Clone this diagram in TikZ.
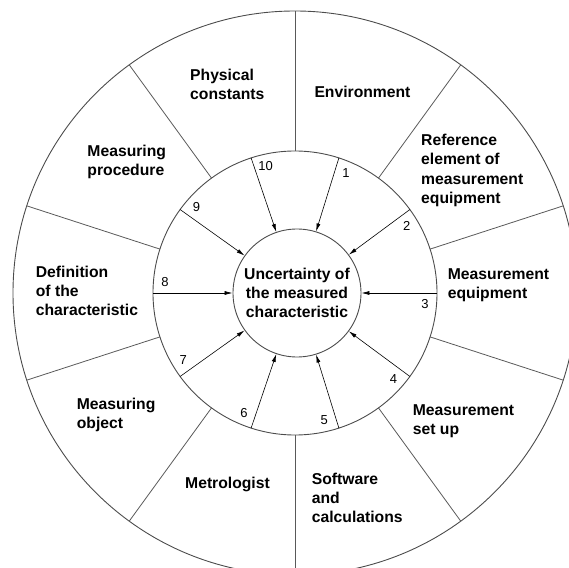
\documentclass[tikz,border=0pt]{standalone}
\usepackage{fontspec}
\setmainfont{Liberation Sans}
\usetikzlibrary{arrows.meta}

\begin{document}
\begin{tikzpicture}[x=1pt,y=1pt]
  \tikzstyle{ring}=[draw=black!70,line width=0.9pt]
  \tikzstyle{spoke}=[draw=black!65,line width=0.8pt]
  \tikzstyle{factor}=[anchor=base west,align=left,inner sep=0pt,
                      font=\bfseries\fontsize{15.7}{19.2}\selectfont]
  \tikzstyle{num}=[inner sep=0pt,font=\fontsize{13}{15}\selectfont]
  \tikzstyle{infl}=[-{Latex[length=8pt,width=4pt]},line width=0.6pt]
  \clip (-295,-274) rectangle (274,293);

  \draw[ring] (0,0) circle (282);
  \draw[ring] (0,0) circle (142);
  \node[ring,circle,minimum size=128pt,inner sep=0pt,align=center,
        font=\bfseries\fontsize{15.7}{19}\selectfont] (unc) at (2,0)
        {Uncertainty of\\the measured\\characteristic};

  % sector borders
  \draw[spoke] (90:142) -- (90:282);
  \draw[spoke] (54:142) -- (54:282);
  \draw[spoke] (18:142) -- (18:282);
  \draw[spoke] (-18:142) -- (-18:282);
  \draw[spoke] (-54:142) -- (-54:282);
  \draw[spoke] (-90:142) -- (-90:282);
  \draw[spoke] (-126:142) -- (-126:282);
  \draw[spoke] (-162:142) -- (-162:282);
  \draw[spoke] (162:142) -- (162:282);
  \draw[spoke] (126:142) -- (126:282);

  % influence arrows
  \coordinate (s1) at (72:142);
  \coordinate (s2) at (36:142);
  \coordinate (s3) at (0:142);
  \coordinate (s4) at (-36:142);
  \coordinate (s5) at (-72:142);
  \coordinate (s6) at (-108:142);
  \coordinate (s7) at (-144:142);
  \coordinate (s8) at (180:142);
  \coordinate (s9) at (144:142);
  \coordinate (s10) at (108:142);
  \draw[infl] (s1) -- (unc);
  \draw[infl] (s2) -- (unc);
  \draw[infl] (s3) -- (unc);
  \draw[infl] (s4) -- (unc);
  \draw[infl] (s5) -- (unc);
  \draw[infl] (s6) -- (unc);
  \draw[infl] (s7) -- (unc);
  \draw[infl] (s8) -- (unc);
  \draw[infl] (s9) -- (unc);
  \draw[infl] (s10) -- (unc);

  \node[num] (n1) at (67:130.4) {1};
  \node[num] (n2) at (31:130.4) {2};
  \node[num] (n3) at (-5:130.4) {3};
  \node[num] (n4) at (-41:130.4) {4};
  \node[num] (n5) at (-77:130.4) {5};
  \node[num] (n6) at (-113:130.4) {6};
  \node[num] (n7) at (-149:130.4) {7};
  \node[num] (n8) at (175:130.4) {8};
  \node[num] (n9) at (139:130.4) {9};
  \node[num] (n10) at (103:130.4) {10};

  % base of a factor node = baseline of its last line
  \node[factor] (phys) at (-105,193.5) {Physical\\constants};
  \node[factor] (env) at (19.3,195.7) {Environment};
  \node[factor] (ref) at (126,89.7) {Reference\\element of\\measurement\\equipment};
  \node[factor] (equip) at (152.7,-5.3) {Measurement\\equipment};
  \node[factor] (setup) at (117.7,-141.3) {Measurement\\set up};
  \node[factor] (soft) at (16.7,-229.7) {Software\\and\\calculations};
  \node[factor] (metro) at (-110,-195.3) {Metrologist};
  \node[factor] (object) at (-218.3,-135.3) {Measuring\\object};
  \node[factor] (defin) at (-259.3,-22.7) {Definition\\of the\\characteristic};
  \node[factor] (proc) at (-207.7,117.3) {Measuring\\procedure};

\end{tikzpicture}
\end{document}
